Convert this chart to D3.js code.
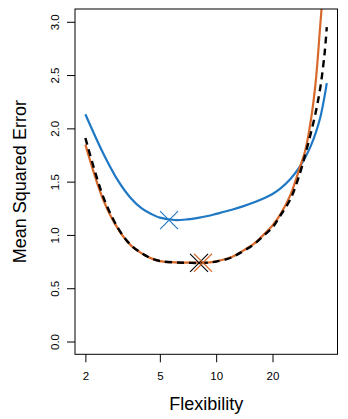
<!DOCTYPE html>
<html>
<head>
<meta charset="utf-8">
<script src="https://cdn.jsdelivr.net/npm/d3@7"></script>
<style>
  html, body { margin: 0; padding: 0; background: #fff; }
  svg { display: block; }
  text { font-family: "Liberation Sans", Arial, Helvetica, sans-serif; fill: #000; }
</style>
</head>
<body>
<svg id="chart" width="348" height="419"></svg>
<script>
// ---- data ----
const flexibility = [2, 2.5, 3, 3.5, 4, 4.5, 5, 6, 7, 8, 9, 10, 12, 14, 16, 18, 20, 22, 25, 28, 30, 32, 34, 36, 38, 39];
const testMSE  = [2.133, 1.760, 1.505, 1.345, 1.250, 1.197, 1.162, 1.140, 1.146, 1.160, 1.178, 1.198, 1.234, 1.270, 1.306, 1.344, 1.384, 1.434, 1.527, 1.640, 1.731, 1.833, 1.955, 2.101, 2.307, 2.425];
const loocvMSE = [1.910, 1.350, 1.060, 0.905, 0.828, 0.780, 0.755, 0.742, 0.739, 0.737, 0.740, 0.750, 0.786, 0.850, 0.915, 0.995, 1.070, 1.180, 1.340, 1.576, 1.763, 1.950, 2.147, 2.380, 2.710, 2.950];
const cv10MSE  = [1.847, 1.323, 1.052, 0.902, 0.827, 0.780, 0.755, 0.743, 0.740, 0.740, 0.741, 0.752, 0.790, 0.855, 0.920, 1.005, 1.089, 1.190, 1.380, 1.634, 1.800, 2.067, 2.430, 2.970, 3.490, 3.750];
const minimaX = [5.6, 8.1, 8.5];
const minimaY = [1.139, 0.737, 0.739];
const minimaSeries = ["test", "loocv", "cv10"];
const xTicks = [2, 5, 10, 20];
const yTicks = [0, 0.5, 1, 1.5, 2, 2.5, 3];
const xLabel = "Flexibility";
const yLabel = "Mean Squared Error";

// ---- layout ----
const L = 75, R = 337.5, T = 9, B = 354.3;
const colors = { test: "#1f78c4", loocv: "#000000", cv10: "#d8692a" };

const svg = d3.select("#chart");
const x = d3.scaleLog().domain([1.76, 44.5]).range([L, R]);
const y = d3.scaleLinear().domain([-0.12, 3.12]).range([B, T]);

svg.append("defs").append("clipPath").attr("id", "plotclip")
  .append("rect").attr("x", L).attr("y", T).attr("width", R - L).attr("height", B - T);

const plot = svg.append("g").attr("clip-path", "url(#plotclip)");

const line = d3.line().x(d => x(d[0])).y(d => y(d[1])).curve(d3.curveCatmullRom.alpha(0.5));
const pts = arr => flexibility.map((f, i) => [f, arr[i]]);

plot.append("path").attr("d", line(pts(testMSE)))
  .attr("fill", "none").attr("stroke", colors.test).attr("stroke-width", 2.2);
plot.append("path").attr("d", line(pts(cv10MSE)))
  .attr("fill", "none").attr("stroke", colors.cv10).attr("stroke-width", 2.2);
plot.append("path").attr("d", line(pts(loocvMSE)))
  .attr("fill", "none").attr("stroke", colors.loocv).attr("stroke-width", 2.4)
  .attr("stroke-dasharray", "7,5");

// minima crosses
const cs = 9;
minimaX.forEach((mx, i) => {
  const cx = x(mx), cy = y(minimaY[i]);
  const c = colors[minimaSeries[i]];
  plot.append("path")
    .attr("d", `M${cx - cs},${cy - cs}L${cx + cs},${cy + cs}M${cx - cs},${cy + cs}L${cx + cs},${cy - cs}`)
    .attr("stroke", c).attr("stroke-width", 1.1).attr("fill", "none");
});

// box
svg.append("rect").attr("x", L).attr("y", T).attr("width", R - L).attr("height", B - T)
  .attr("fill", "none").attr("stroke", "#000").attr("stroke-width", 1);

// x axis
const xAxis = svg.append("g").attr("transform", `translate(0,${B})`)
  .call(d3.axisBottom(x).tickValues(xTicks).tickFormat(d3.format("d")).tickSize(8).tickPadding(10));
xAxis.select(".domain").remove();
xAxis.selectAll("line").attr("stroke", "#000");
xAxis.selectAll("text").attr("font-size", "11.5px").attr("font-family", "Liberation Sans, Arial, sans-serif").attr("fill", "#000");

// y axis
const yAxis = svg.append("g").attr("transform", `translate(${L},0)`)
  .call(d3.axisLeft(y).tickValues(yTicks).tickFormat(d3.format(".1f")).tickSize(8));
yAxis.select(".domain").remove();
yAxis.selectAll("line").attr("stroke", "#000");
yAxis.selectAll("text")
  .attr("font-size", "11.5px").attr("font-family", "Liberation Sans, Arial, sans-serif").attr("fill", "#000")
  .attr("x", null).attr("dy", null)
  .attr("text-anchor", "middle")
  .attr("transform", "translate(-16,0) rotate(-90)");

// axis titles
svg.append("text").attr("x", (L + R) / 2).attr("y", 410)
  .attr("text-anchor", "middle").attr("font-size", "18px").text(xLabel);
svg.append("text").attr("transform", `translate(26,${(T + B) / 2}) rotate(-90)`)
  .attr("text-anchor", "middle").attr("font-size", "18px").text(yLabel);
</script>
</body>
</html>
